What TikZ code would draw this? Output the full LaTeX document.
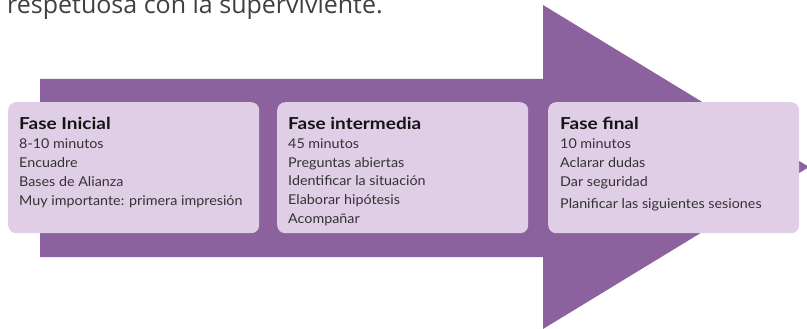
\documentclass[tikz,border=0pt]{standalone}
\usepackage{fontspec}
\setmainfont[FakeStretch=1.06]{Lato}
\newfontfamily\titlefont[FakeStretch=1.15]{Lato}
\newfontfamily\topfont{Open Sans}
\definecolor{arrowpurple}{RGB}{139,98,157}
\definecolor{boxlilac}{RGB}{224,205,230}
\definecolor{bodygray}{RGB}{51,51,51}
\definecolor{titleblack}{RGB}{20,20,20}
\definecolor{topgray}{RGB}{64,64,64}
\tikzset{
  phasebox/.style={draw=none, fill=boxlilac, rounded corners=8pt, minimum width=251pt, minimum height=131pt, inner sep=0pt, anchor=north west},
  phasetext/.style={inner sep=0pt, anchor=base west, text=bodygray, font=\fontsize{13.5}{18.8}\selectfont},
}
\newcommand{\phtitle}[1]{{\titlefont\fontsize{16.5}{18.8}\selectfont\bfseries\color{titleblack}#1}}
\begin{document}
\begin{tikzpicture}[x=1pt,y=-1pt]
\useasboundingbox (0,0) rectangle (807,329);
\clip (0,0) rectangle (807,329);
% big arrow
\fill[arrowpurple] (40,79) -- (543,79) -- (543,5) -- (809,167) -- (543,329) -- (543,257) -- (40,257) -- cycle;
% sentence at the top, cut by the picture's edge as in the reference
\node[inner sep=0pt, anchor=base west, text=topgray, font=\topfont\fontsize{25}{30}\selectfont] (toptext) at (7,13.5) {respetuosa con la superviviente.};
% boxes
\node[phasebox] (b1) at (8,102) {};
\node[phasebox] (b2) at (277,102) {};
\node[phasebox] (b3) at (548,102) {};
\node[phasetext] (t1) at (19,130) {\begin{tabular}[t]{@{}l@{}}\phtitle{Fase Inicial}\\8-10 minutos\\Encuadre\\Bases de Alianza\\Muy importante: primera impresión\end{tabular}};
\node[phasetext] (t2) at (288,129.5) {\begin{tabular}[t]{@{}l@{}}\phtitle{Fase intermedia}\\45 minutos\\Preguntas abiertas\\Identificar la situación\\Elaborar hipótesis\\Acompañar\end{tabular}};
\node[phasetext] (t3) at (560,130) {\begin{tabular}[t]{@{}l@{}}\phtitle{Fase final}\\10 minutos\\Aclarar dudas\\Dar seguridad\\[3.5pt]Planificar las siguientes sesiones\end{tabular}};
\end{tikzpicture}
\end{document}
